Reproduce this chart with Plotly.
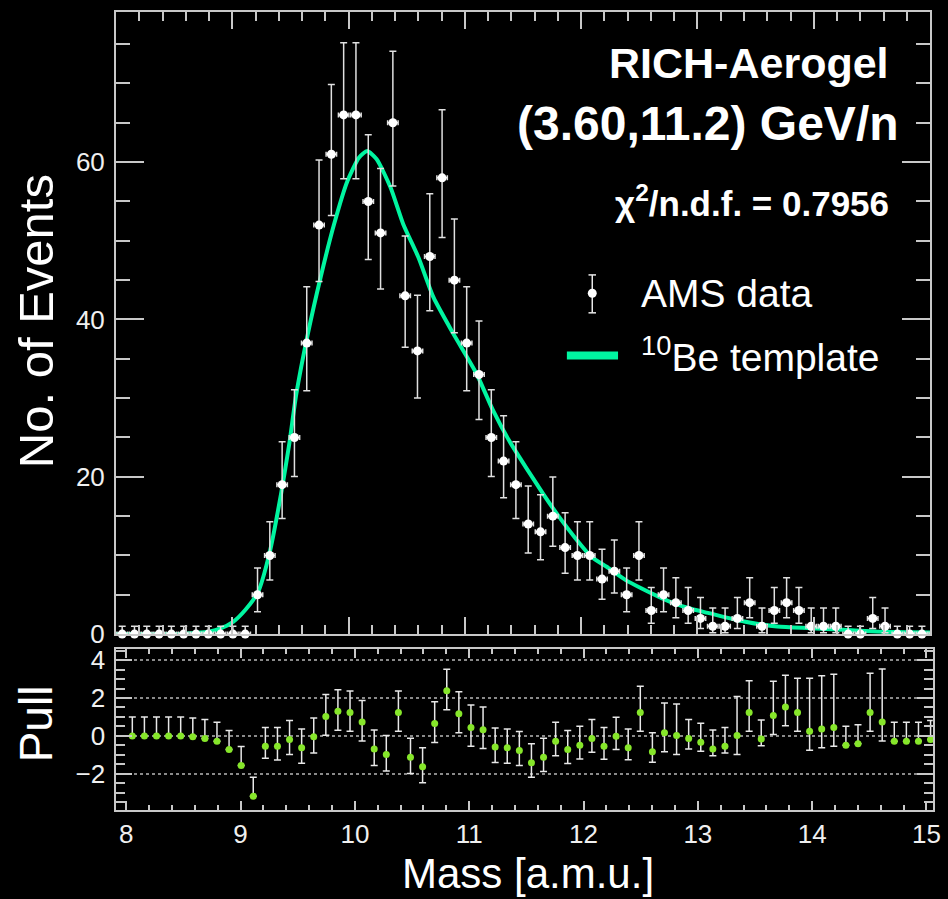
import numpy as np
import plotly.graph_objects as go

# ---------------- data ----------------
bin_start = 8.053
bin_width = 0.1058
n_bins = 67
mass_centers = bin_start + bin_width * np.arange(n_bins)

counts = [0, 0, 0, 0, 0, 0, 0, 0, 0, 0,
          0, 5, 10, 19, 25, 37, 52, 61, 66, 66,
          55, 51, 65, 43, 36, 48, 58, 45, 37, 33,
          25, 22, 19, 14, 13, 15, 11, 10, 10, 7,
          8, 5, 10, 3, 5, 4, 3, 2, 1, 1,
          2, 4, 1, 3, 4, 3, 1, 1, 1, 0,
          0, 2, 1, 0, 0, 0, 0]

pulls = [0, 0, 0, 0, 0, -0.05, -0.14, -0.28, -0.72, -1.56,
         -3.18, -0.55, -0.55, -0.19, -0.63, -0.05, 1.03, 1.30, 1.24, 0.73,
         -0.69, -0.98, 1.24, -1.12, -1.63, 0.65, 2.38, 1.17, 0.45, 0.33,
         -0.58, -0.63, -0.77, -1.42, -1.12, -0.28, -0.72, -0.49, -0.14, -0.55,
         -0.02, -0.63, 1.24, -0.84, 0.16, 0.02, -0.14, -0.33, -0.69, -0.55,
         0.02, 1.24, -0.16, 1.08, 1.53, 1.24, 0.24, 0.37, 0.45, -0.49,
         -0.41, 1.24, 0.73, -0.28, -0.28, -0.28, -0.19]

template_mass = [8.0, 8.48, 8.585, 8.69, 8.796, 8.90, 9.007, 9.113, 9.22, 9.32,
                 9.42, 9.49, 9.55, 9.65, 9.76, 9.875, 9.99, 10.09, 10.16, 10.24,
                 10.36, 10.47, 10.60, 10.73, 10.90, 11.10, 11.24, 11.38, 11.52, 11.67,
                 11.81, 11.95, 12.09, 12.235, 12.38, 12.52, 12.66, 12.80, 12.95, 13.09,
                 13.40, 13.685, 13.97, 14.25, 14.54, 14.82, 15.0]
template_vals = [0.0, 0.0, 0.05, 0.14, 0.3, 0.72, 1.56, 3.1, 5.3, 10.3,
                 17.9, 24.2, 30.5, 38.2, 45.4, 52.1, 57.6, 60.6, 61.4, 60.4,
                 56.8, 52.1, 47.9, 42.8, 38.2, 33.1, 28.5, 24.6, 21.3, 17.9,
                 14.9, 12.2, 9.8, 8.4, 6.9, 5.8, 4.8, 3.9, 3.2, 2.7,
                 1.6, 0.97, 0.76, 0.55, 0.33, 0.25, 0.2]

x_ticks = [8, 9, 10, 11, 12, 13, 14, 15]
title_lines = ["RICH-Aerogel", "(3.60,11.2) GeV/n", "χ<sup>2</sup>/n.d.f. = 0.7956"]


# Poisson (Gehrels) 68% intervals for the counts
def poisson_errors(n):
    if n == 0:
        return 0.0, 1.0
    up = np.sqrt(n + 0.75) + 1.0
    lo = n - n * (1 - 1 / (9 * n) - 1 / (3 * np.sqrt(n))) ** 3
    return lo, up


err_lo, err_up, pull_lo, pull_up = [], [], [], []
for n, p in zip(counts, pulls):
    lo, up = poisson_errors(n)
    err_lo.append(lo)
    err_up.append(up)
    if n == 0:
        pull_up.append(1.0)
        pull_lo.append(0.0)
    elif p < 0:
        pull_up.append(1.0)
        pull_lo.append(lo / up)
    else:
        pull_lo.append(1.0)
        pull_up.append(up / lo)

# ---------------- geometry helpers ----------------
W, H = 948, 899
def px(x):
    return x / W
def py(y):
    ys = (y - 2.8) / 0.981
    return 1 - ys / H

FONT = "Liberation Sans, Arial, sans-serif"
AX = "#C8C8C8"
GREEN = "#00F5A0"

fig = go.Figure()

fig.add_trace(go.Scatter(
    x=template_mass, y=template_vals, mode="lines",
    line=dict(color=GREEN, width=4, shape="spline", smoothing=0.6),
    xaxis="x", yaxis="y", showlegend=False, hoverinfo="skip"))

fig.add_trace(go.Scatter(
    x=mass_centers, y=counts, mode="markers",
    marker=dict(color="white", size=9),
    error_y=dict(type="data", symmetric=False, array=err_up, arrayminus=err_lo,
                 color="#E0E0E0", thickness=1.5, width=3.5),
    error_x=dict(type="constant", value=0.045, color="#E0E0E0", thickness=1.5, width=2.5),
    cliponaxis=False, xaxis="x", yaxis="y", showlegend=False))

fig.add_trace(go.Scatter(
    x=mass_centers, y=pulls, mode="markers",
    marker=dict(color="#86E62A", size=7),
    error_y=dict(type="data", symmetric=False, array=pull_up, arrayminus=pull_lo,
                 color="#E8E8E8", thickness=1.5, width=3.5),
    cliponaxis=False, xaxis="x2", yaxis="y2", showlegend=False))

axis_common = dict(showline=True, linecolor=AX, linewidth=2, mirror="allticks",
                   ticks="inside", tickcolor=AX, tickwidth=2,
                   zeroline=False, showgrid=False, ticklabeloverflow="allow",
                   tickfont=dict(family=FONT, size=26, color="#F0F0F0"))

fig.update_layout(
    width=W, height=H, margin=dict(l=0, r=0, t=0, b=0),
    paper_bgcolor="black", plot_bgcolor="black",
    xaxis=dict(axis_common, domain=[px(117), px(938)], range=[8, 15],
               tickvals=x_ticks, ticklen=17, showticklabels=False,
               minor=dict(ticks="inside", dtick=0.2, tick0=8, ticklen=9,
                          tickcolor=AX, tickwidth=2),
               anchor="y"),
    yaxis=dict(axis_common, domain=[py(634.3), py(10.7)], range=[0, 79.1],
               dtick=20, tick0=0, ticklen=28, ticklabelstandoff=4,
               minor=dict(ticks="inside", dtick=5, tick0=0, ticklen=14,
                          tickcolor=AX, tickwidth=2),
               anchor="x"),
    xaxis2=dict(axis_common, domain=[px(117.3), px(940.7)], range=[7.913, 15.055],
                tickvals=x_ticks, ticklen=9,
                minor=dict(ticks="inside", dtick=0.2, tick0=8, ticklen=5,
                           tickcolor=AX, tickwidth=2),
                anchor="y2"),
    yaxis2=dict(axis_common, domain=[py(810.7), py(649.3)], range=[-3.916, 4.58],
                tickvals=[-2, 0, 2, 4], ticklen=16, ticklabelstandoff=4,
                showgrid=True, gridcolor="#8A8A8A", griddash="dot", gridwidth=2,
                minor=dict(ticks="inside", dtick=0.5, tick0=0, ticklen=9,
                           tickcolor=AX, tickwidth=2),
                anchor="x2"),
)

ann = [
    dict(text="No. of Events", x=px(36), y=py(321), textangle=-90, size=49, bold=False,
         xanchor="center", yanchor="middle"),
    dict(text="Pull", x=px(36), y=py(724), textangle=-90, size=46, bold=False,
         xanchor="center", yanchor="middle"),
    dict(text="Mass [a.m.u.]", x=px(532), y=py(874), textangle=0, size=42, bold=False,
         xanchor="center", yanchor="middle"),
    dict(text=title_lines[0], x=px(899), y=py(62), textangle=0, size=43, bold=True,
         xanchor="right", yanchor="middle"),
    dict(text=title_lines[1], x=px(909), y=py(123), textangle=0, size=48, bold=True,
         xanchor="right", yanchor="middle"),
    dict(text=title_lines[2], x=px(899), y=py(200), textangle=0, size=35, bold=True,
         xanchor="right", yanchor="middle"),
    dict(text="AMS data", x=px(644), y=py(293), textangle=0, size=39, bold=False,
         xanchor="left", yanchor="middle"),
    dict(text="<sup>10</sup>Be template", x=px(644), y=py(354), textangle=0, size=39,
         bold=False, xanchor="left", yanchor="middle"),
]
for a in ann:
    txt = f"<b>{a['text']}</b>" if a["bold"] else a["text"]
    fig.add_annotation(text=txt, x=a["x"], y=a["y"], xref="paper", yref="paper",
                       showarrow=False, textangle=a["textangle"],
                       xanchor=a["xanchor"], yanchor=a["yanchor"],
                       font=dict(family=FONT, size=a["size"], color="white"))

# legend symbols
LC = "#E8E8E8"
fig.add_shape(type="line", xref="paper", yref="paper", x0=px(597.3), x1=px(597.3),
              y0=py(274.3), y1=py(312.3), line=dict(color=LC, width=1.5))
for yy in (274.3, 312.3):
    fig.add_shape(type="line", xref="paper", yref="paper", x0=px(593.5), x1=px(601.1),
                  y0=py(yy), y1=py(yy), line=dict(color=LC, width=1.5))
fig.add_shape(type="circle", xref="paper", yref="paper", x0=px(592.8), x1=px(601.8),
              y0=py(297.2), y1=py(288.2), fillcolor="white", line=dict(width=0))
fig.add_shape(type="rect", xref="paper", yref="paper", x0=px(571.7), x1=px(623.3),
              y0=py(359), y1=py(351), fillcolor=GREEN, line=dict(width=0))

fig.write_html("out.html")
